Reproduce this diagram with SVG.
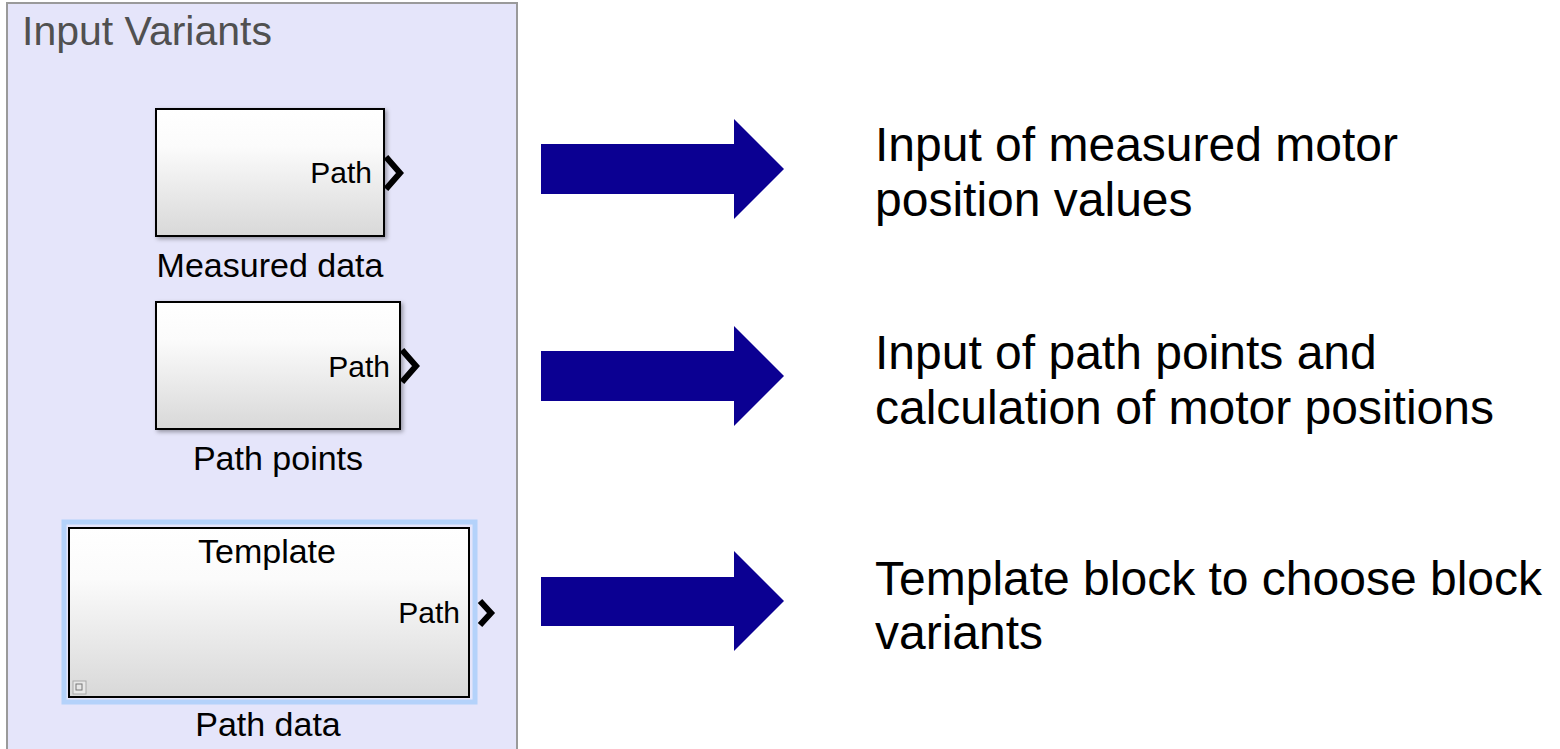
<svg xmlns="http://www.w3.org/2000/svg" width="1560" height="749" viewBox="0 0 1560 749">
<style>
text{font-family:"Liberation Sans",Arial,sans-serif;fill:#000}
.blk{fill:url(#g);stroke:#000;stroke-width:2}
.port{fill:none;stroke:#000;stroke-width:6;stroke-linejoin:miter}
.pl{font-size:30px;text-anchor:end}
.lbl{font-size:34px;text-anchor:middle}
.desc{font-size:48px}
.arr{fill:#0b0092}
</style>
<defs>
<linearGradient id="g" x1="0" y1="0" x2="0" y2="1">
<stop offset="0" stop-color="#ffffff"/>
<stop offset="0.3" stop-color="#fbfbfb"/>
<stop offset="1" stop-color="#d8d8d8"/>
</linearGradient>
<filter id="sh" x="-10%" y="-10%" width="130%" height="130%">
<feDropShadow dx="2" dy="2" stdDeviation="2" flood-color="#000" flood-opacity="0.35"/>
</filter>
</defs>
<rect width="1560" height="749" fill="#fff"/>
<g id="panel">
<rect x="7" y="3" width="510" height="750" fill="#e5e5fa" stroke="#9a9a9a" stroke-width="2"/>
<text x="22" y="45" font-size="41" style="fill:#505050">Input Variants</text>
</g>
<g id="measured">
<rect class="blk" x="156" y="109" width="228" height="127" filter="url(#sh)"/>
<text class="pl" x="372" y="183">Path</text>
<polyline class="port" points="386,157 400,173 386,189"/>
<text class="lbl" x="270" y="277">Measured data</text>
</g>
<g id="pathpoints">
<rect class="blk" x="156" y="302" width="244" height="127" filter="url(#sh)"/>
<text class="pl" x="390" y="377">Path</text>
<polyline class="port" points="402,350 416,366 402,382"/>
<text class="lbl" x="278" y="470">Path points</text>
</g>
<g id="template">
<rect x="64" y="522" width="411" height="180" fill="none" stroke="#b4d2fa" stroke-width="5"/>
<rect class="blk" x="69" y="528" width="400" height="169"/>
<text class="lbl" x="267" y="563">Template</text>
<text class="pl" x="460" y="623">Path</text>
<polyline class="port" points="480,601 491,613 480,625"/>
<rect x="73" y="681" width="13" height="13" fill="#e8e8e8" stroke="#aaa" stroke-width="1"/>
<rect x="76" y="684" width="6" height="6" fill="none" stroke="#777" stroke-width="1"/>
<text class="lbl" x="268" y="736">Path data</text>
</g>
<g id="connectors">
<polygon class="arr" points="541,144 734,144 734,119 784,169 734,219 734,194 541,194"/>
<polygon class="arr" points="541,351 734,351 734,326 784,376 734,426 734,401 541,401"/>
<polygon class="arr" points="541,577 734,577 734,551 784,601 734,651 734,626 541,626"/>
</g>
<g id="desc1">
<text class="desc" x="875" y="161">Input of measured motor</text>
<text class="desc" x="875" y="216">position values</text>
</g>
<g id="desc2">
<text class="desc" x="875" y="369">Input of path points and</text>
<text class="desc" x="875" y="424">calculation of motor positions</text>
</g>
<g id="desc3">
<text class="desc" x="875" y="595">Template block to choose block</text>
<text class="desc" x="875" y="649">variants</text>
</g>
</svg>
